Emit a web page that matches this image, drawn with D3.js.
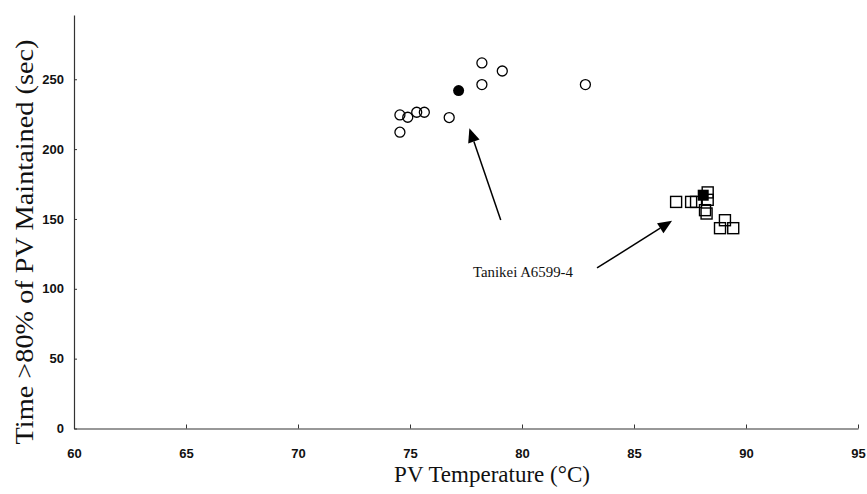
<!DOCTYPE html>
<html>
<head>
<meta charset="utf-8">
<script src="https://cdn.jsdelivr.net/npm/d3@7"></script>
<style>
  body { margin: 0; background: #fff; }
  .tick text { font-family: "Liberation Sans Narrow", "Liberation Sans", Arial, sans-serif; font-size: 13px; font-weight: bold; fill: #111; }
  .axis path, .axis line { stroke: #333; }
  .title { font-family: "Liberation Serif", "Times New Roman", serif; fill: #111; }
</style>
</head>
<body>
<div id="vis"></div>
<script>
// PV temperature (x) vs time >80% of PV maintained (y)
var circleTemp = [78.21, 79.12, 78.21, 82.83, 74.55, 74.90, 75.30, 75.64, 76.75, 74.55];
var circleTime = [261.7, 255.9, 246.2, 246.2, 224.5, 222.8, 226.4, 226.4, 222.6, 212.1];
var circleFilled = [{ temp: 77.17, time: 241.9 }];

var squareTemp = [86.88, 87.55, 87.77, 88.29, 88.29, 88.17, 88.24, 89.06, 88.84, 89.43];
var squareTime = [162.2, 162.2, 162.2, 169.0, 163.7, 156.3, 153.9, 149.1, 143.4, 143.4];
var squareFilled = [{ temp: 88.09, time: 167.0 }];

var xTicks = [60, 65, 70, 75, 80, 85, 90, 95];
var yTicks = [0, 50, 100, 150, 200, 250];

// arrows, in data units: [fromTemp, fromTime, toTemp, toTime]
var arrows = [
    [79.05, 149.2, 77.65, 214.9],
    [83.35, 114.9, 86.70, 148.7]
];
var note = { temp: 77.81, time: 108.4, text: 'Tanikei A6599-4' };

var width = 867,
    height = 494;

var svg = d3.select('#vis').append('svg')
    .attr('width', width)
    .attr('height', height);

var xScale = d3.scaleLinear().domain([60, 95]).range([74, 858]);
var yScale = d3.scaleLinear().domain([0, 296]).range([428.5, 15]);

var xAxis = d3.axisBottom(xScale)
    .tickValues(xTicks)
    .tickSizeInner(-4)
    .tickSizeOuter(0)
    .tickPadding(20);

var yAxis = d3.axisLeft(yScale)
    .tickValues(yTicks)
    .tickSizeInner(-3)
    .tickSizeOuter(0)
    .tickPadding(10);

svg.append('g')
    .attr('class', 'axis')
    .attr('transform', 'translate(0,' + yScale(0) + ')')
    .call(xAxis);

svg.append('g')
    .attr('class', 'axis')
    .attr('transform', 'translate(' + xScale(60) + ',0)')
    .call(yAxis);

svg.selectAll('.domain').attr('stroke-width', 1.2);

// axis titles
svg.append('text')
    .attr('class', 'title')
    .attr('x', 492)
    .attr('y', 482)
    .attr('text-anchor', 'middle')
    .style('font-size', '23px')
    .text('PV Temperature (\u00B0C)');

svg.append('text')
    .attr('class', 'title')
    .attr('transform', 'translate(33,242) rotate(-90)')
    .attr('text-anchor', 'middle')
    .attr('textLength', 405)
    .attr('lengthAdjust', 'spacingAndGlyphs')
    .style('font-size', '26px')
    .text('Time >80% of PV Maintained (sec)');

// circles
var circles = circleTemp.map(function(d, i) {
    return { temp: d, time: circleTime[i] };
});
svg.selectAll('circle.open').data(circles).enter()
    .append('circle')
    .attr('class', 'open')
    .attr('cx', function(d) { return xScale(d.temp); })
    .attr('cy', function(d) { return yScale(d.time); })
    .attr('r', 5)
    .attr('fill', 'none')
    .attr('stroke', '#000')
    .attr('stroke-width', 1.3);

svg.selectAll('circle.filled').data(circleFilled).enter()
    .append('circle')
    .attr('class', 'filled')
    .attr('cx', function(d) { return xScale(d.temp); })
    .attr('cy', function(d) { return yScale(d.time); })
    .attr('r', 5.5)
    .attr('fill', '#000');

// squares
var side = 11;
var squares = squareTemp.map(function(d, i) {
    return { temp: d, time: squareTime[i] };
});
svg.selectAll('rect.open').data(squares).enter()
    .append('rect')
    .attr('class', 'open')
    .attr('x', function(d) { return xScale(d.temp) - side / 2; })
    .attr('y', function(d) { return yScale(d.time) - side / 2; })
    .attr('width', side)
    .attr('height', side)
    .attr('fill', 'none')
    .attr('stroke', '#000')
    .attr('stroke-width', 1.4);

svg.selectAll('rect.filled').data(squareFilled).enter()
    .append('rect')
    .attr('class', 'filled')
    .attr('x', function(d) { return xScale(d.temp) - side / 2; })
    .attr('y', function(d) { return yScale(d.time) - side / 2; })
    .attr('width', side)
    .attr('height', side)
    .attr('fill', '#000');

// arrows
var headLen = 14, headHalf = 6;
arrows.forEach(function(a) {
    var x1 = xScale(a[0]), y1 = yScale(a[1]),
        x2 = xScale(a[2]), y2 = yScale(a[3]);
    var dx = x2 - x1, dy = y2 - y1,
        len = Math.sqrt(dx * dx + dy * dy),
        ux = dx / len, uy = dy / len;
    var bx = x2 - ux * headLen, by = y2 - uy * headLen;
    svg.append('line')
        .attr('x1', x1).attr('y1', y1)
        .attr('x2', bx).attr('y2', by)
        .attr('stroke', '#000')
        .attr('stroke-width', 1.5);
    svg.append('polygon')
        .attr('points', [
            [x2, y2],
            [bx - uy * headHalf, by + ux * headHalf],
            [bx + uy * headHalf, by - ux * headHalf]
        ].map(function(p) { return p.join(','); }).join(' '))
        .attr('fill', '#000');
});

svg.append('text')
    .attr('class', 'title')
    .attr('x', xScale(note.temp))
    .attr('y', yScale(note.time))
    .attr('textLength', 100)
    .attr('lengthAdjust', 'spacingAndGlyphs')
    .style('font-size', '15px')
    .text(note.text);
</script>
</body>
</html>
